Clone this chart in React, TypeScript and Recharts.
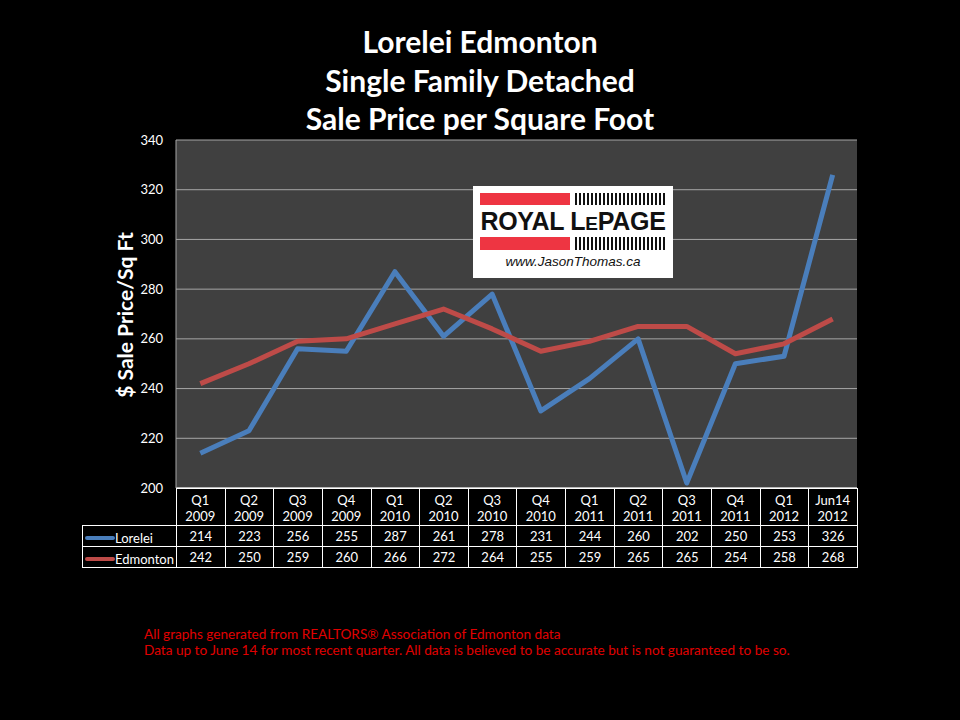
import { LineChart, Line, XAxis, YAxis, CartesianGrid } from 'recharts';

// quarters on the x axis (two-line labels)
const quarters = ['Q1', 'Q2', 'Q3', 'Q4', 'Q1', 'Q2', 'Q3', 'Q4', 'Q1', 'Q2', 'Q3', 'Q4', 'Q1', 'Jun14'];
const years = ['2009', '2009', '2009', '2009', '2010', '2010', '2010', '2010', '2011', '2011', '2011', '2011', '2012', '2012'];

// sale price per sq ft
const lorelei = [214, 223, 256, 255, 287, 261, 278, 231, 244, 260, 202, 250, 253, 326];
const edmonton = [242, 250, 259, 260, 266, 272, 264, 255, 259, 265, 265, 254, 258, 268];

const yTicks = [200, 220, 240, 260, 280, 300, 320, 340];

const data = quarters.map((q, i) => ({
  label: q + '|' + years[i],
  lorelei: lorelei[i],
  edmonton: edmonton[i],
}));

const FONT = 'Lato, "Open Sans", sans-serif';
const BLUE = '#4A7EBB';
const RED = '#BE4B48';

const TABLE_LEFT = 82;
const PLOT_LEFT = 176;
const PLOT_RIGHT = 857;
const COL_W = (PLOT_RIGHT - PLOT_LEFT) / quarters.length;

function QuarterTick(props: any) {
  const { x, y, payload } = props;
  const [q, yr] = String(payload.value).split('|');
  return (
    <g>
      <text x={x} y={y + 9} textAnchor="middle" fill="#fff" fontSize={13} fontFamily={FONT}>{q}</text>
      <text x={x} y={y + 25} textAnchor="middle" fill="#fff" fontSize={13} fontFamily={FONT}>{yr}</text>
    </g>
  );
}

function DataTable() {
  const cell: React.CSSProperties = {
    border: '1px solid #fff',
    padding: 0,
    textAlign: 'center',
    color: '#fff',
    fontSize: 13,
    height: 20,
    overflow: 'hidden',
    whiteSpace: 'nowrap',
  };
  const rows = [
    { name: 'Lorelei', color: BLUE, values: lorelei },
    { name: 'Edmonton', color: RED, values: edmonton },
  ];
  return (
    <table
      style={{
        position: 'absolute',
        left: TABLE_LEFT,
        top: 488,
        width: PLOT_RIGHT - TABLE_LEFT + 1,
        borderCollapse: 'collapse',
        tableLayout: 'fixed',
        fontFamily: FONT,
      }}
    >
      <colgroup>
        <col style={{ width: PLOT_LEFT - TABLE_LEFT }} />
        {quarters.map((q, i) => (
          <col key={i} style={{ width: COL_W }} />
        ))}
      </colgroup>
      <tbody>
        <tr>
          <td style={{ height: 36, padding: 0 }} />
          {quarters.map((q, i) => (
            <td key={i} style={{ ...cell, height: 36 }} />
          ))}
        </tr>
        {rows.map((r) => (
          <tr key={r.name}>
            <td style={{ ...cell, textAlign: 'left' }}>
              <span style={{ display: 'inline-flex', alignItems: 'center' }}>
                <span style={{ display: 'inline-block', width: 30, height: 4, borderRadius: 2, background: r.color, marginLeft: 2 }} />
                <span>{r.name}</span>
              </span>
            </td>
            {r.values.map((v, i) => (
              <td key={i} style={cell}>{v}</td>
            ))}
          </tr>
        ))}
      </tbody>
    </table>
  );
}

function Logo() {
  const stripes = 'repeating-linear-gradient(90deg, #111 0px, #111 2px, #fff 2px, #fff 4px)';
  return (
    <div style={{ position: 'absolute', left: 473, top: 186, width: 200, height: 92, background: '#fff' }}>
      <div style={{ position: 'absolute', left: 7, top: 7, width: 90, height: 12, background: '#EE3542' }} />
      <div style={{ position: 'absolute', left: 102, top: 7, width: 90, height: 12, background: stripes }} />
      <div
        style={{
          position: 'absolute', left: 0, top: 21, width: 200, textAlign: 'center',
          fontFamily: '"Liberation Sans", Arial, sans-serif', fontWeight: 700, fontSize: 25, color: '#111', letterSpacing: -0.3,
        }}
      >
        ROYAL L<span style={{ fontSize: 19 }}>E</span>PAGE
      </div>
      <div style={{ position: 'absolute', left: 7, top: 51, width: 90, height: 13, background: '#EE3542' }} />
      <div style={{ position: 'absolute', left: 102, top: 51, width: 90, height: 13, background: stripes }} />
      <div
        style={{
          position: 'absolute', left: 0, top: 68, width: 200, textAlign: 'center',
          fontFamily: '"Liberation Sans", Arial, sans-serif', fontStyle: 'italic', fontSize: 13.5, color: '#111',
        }}
      >
        www.JasonThomas.ca
      </div>
    </div>
  );
}

export default function App() {
  return (
    <div style={{ position: 'absolute', left: 0, top: 0, width: 960, height: 720, background: '#000', overflow: 'hidden' }}>
      <div
        style={{
          position: 'absolute', left: 0, top: 22, width: 960, textAlign: 'center', color: '#fff',
          fontFamily: FONT, fontWeight: 700, fontSize: 30, lineHeight: '38.5px',
        }}
      >
        <div>Lorelei Edmonton</div>
        <div>Single Family Detached</div>
        <div>Sale Price per Square Foot</div>
      </div>

      <LineChart
        width={960}
        height={720}
        data={data}
        margin={{ top: 140, right: 960 - PLOT_RIGHT, left: PLOT_LEFT - 60, bottom: 720 - 488 - 37 }}
        style={{ position: 'absolute', left: 0, top: 0 }}
      >
        <CartesianGrid fill="#404040" vertical={false} stroke="#A6A6A6" strokeWidth={1} />
        <XAxis
          dataKey="label"
          height={37}
          interval={0}
          tick={<QuarterTick />}
          tickLine={false}
          axisLine={{ stroke: '#fff', strokeWidth: 1 }}
          padding={{ left: COL_W / 2, right: COL_W / 2 }}
        />
        <YAxis
          width={60}
          domain={[200, 340]}
          ticks={yTicks}
          tickLine={false}
          tickSize={0}
          tickMargin={13}
          axisLine={{ stroke: '#A6A6A6' }}
          tick={{ fill: '#fff', fontSize: 13, fontFamily: FONT }}
        />
        <Line dataKey="lorelei" stroke={BLUE} strokeWidth={5} dot={false} isAnimationActive={false} strokeLinejoin="round" />
        <Line dataKey="edmonton" stroke={RED} strokeWidth={5} dot={false} isAnimationActive={false} strokeLinejoin="round" />
      </LineChart>

      <Logo />
      <DataTable />

      <div
        style={{
          position: 'absolute', left: 124, top: 315, transform: 'translate(-50%, -50%) rotate(-90deg)',
          color: '#fff', fontFamily: FONT, fontWeight: 700, fontSize: 21, whiteSpace: 'nowrap',
        }}
      >
        $ Sale Price/Sq Ft
      </div>

      <div style={{ position: 'absolute', left: 144, top: 626, color: '#E00000', fontFamily: FONT, fontSize: 13.6, lineHeight: '16px' }}>
        <div>All graphs generated from REALTORS® Association of Edmonton data</div>
        <div>Data up to June 14 for most recent quarter. All data is believed to be accurate but is not guaranteed to be so.</div>
      </div>
    </div>
  );
}
